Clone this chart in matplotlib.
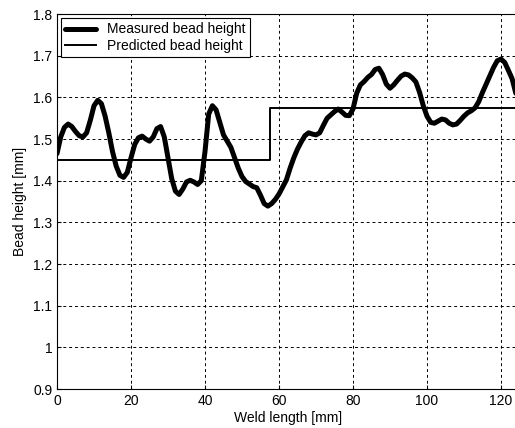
import matplotlib
matplotlib.use("Agg")
import matplotlib.pyplot as plt

plt.rcParams['font.family'] = ['Liberation Sans', 'DejaVu Sans']

# Measured bead height
meas_x = list(range(0, 125))
meas_y = [1.465, 1.505, 1.528, 1.536, 1.530, 1.518, 1.508, 1.505, 1.515, 1.545,
          1.580, 1.593, 1.585, 1.555, 1.515, 1.470, 1.435, 1.413, 1.408, 1.420,
          1.455, 1.487, 1.503, 1.507, 1.500, 1.495, 1.505, 1.525, 1.530, 1.505,
          1.455, 1.405, 1.375, 1.367, 1.380, 1.397, 1.401, 1.397, 1.391, 1.400,
          1.470, 1.560, 1.580, 1.570, 1.540, 1.510, 1.495, 1.480, 1.455, 1.430,
          1.410, 1.398, 1.392, 1.386, 1.383, 1.365, 1.345, 1.339, 1.345, 1.355,
          1.368, 1.385, 1.402, 1.430, 1.455, 1.476, 1.493, 1.508, 1.515, 1.512,
          1.510, 1.515, 1.533, 1.550, 1.558, 1.566, 1.572, 1.565, 1.557, 1.556,
          1.572, 1.610, 1.630, 1.638, 1.648, 1.655, 1.667, 1.670, 1.655, 1.632,
          1.622, 1.630, 1.641, 1.651, 1.656, 1.654, 1.647, 1.637, 1.612, 1.580,
          1.555, 1.540, 1.538, 1.543, 1.548, 1.546, 1.538, 1.534, 1.536, 1.545,
          1.555, 1.563, 1.568, 1.575, 1.590, 1.612, 1.632, 1.652, 1.672, 1.688,
          1.692, 1.684, 1.665, 1.645, 1.610]

# Predicted bead height (step)
pred_x = [0, 57.7, 57.7, 125]
pred_y = [1.45, 1.45, 1.575, 1.575]

xticks = [0, 20, 40, 60, 80, 100, 120]
yticks = [0.9, 1.0, 1.1, 1.2, 1.3, 1.4, 1.5, 1.6, 1.7, 1.8]
ytick_labels = ['0.9', '1', '1.1', '1.2', '1.3', '1.4', '1.5', '1.6', '1.7', '1.8']

fig = plt.figure(figsize=(5.15, 4.28), dpi=100)
ax = fig.add_axes([0.1107, 0.0911, 0.898, 0.876])

ax.plot(meas_x, meas_y, color='black', lw=3.6, solid_joinstyle='round',
        solid_capstyle='round', label='Measured bead height')
ax.plot(pred_x, pred_y, color='black', lw=1.4, label='Predicted bead height')

ax.set_xlim(0, 125)
ax.set_ylim(0.9, 1.8)
ax.set_xticks(xticks)
ax.set_yticks(yticks)
ax.set_yticklabels(ytick_labels)
ax.tick_params(direction='in', labelsize=10, length=3, width=0.8)
ax.grid(True, color='black', linestyle=(0, (3, 3)), linewidth=0.7)
for s in ax.spines.values():
    s.set_linewidth(0.8)

ax.set_xlabel('Weld length [mm]', fontsize=10, labelpad=2)
ax.set_ylabel('Bead height [mm]', fontsize=10, labelpad=4)

leg = ax.legend(loc='upper left', fontsize=10, frameon=True, fancybox=False,
                edgecolor='black', framealpha=1, borderaxespad=0.3,
                handlelength=2.2, borderpad=0.3, labelspacing=0.2)
leg.get_frame().set_linewidth(0.8)

fig.savefig('out.png', dpi=100)
